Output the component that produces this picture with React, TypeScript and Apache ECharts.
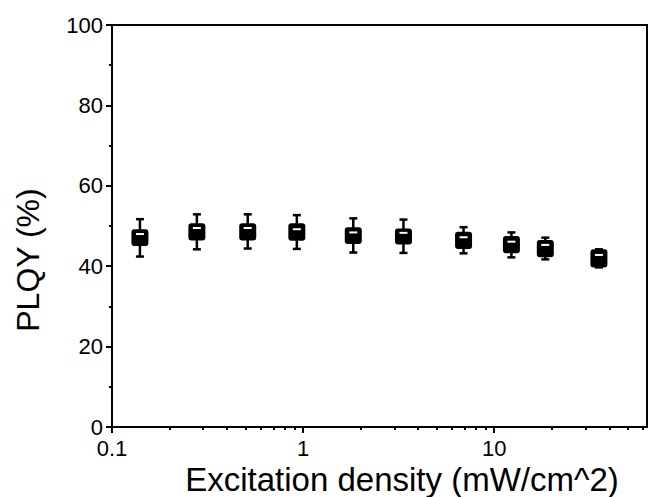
import React, { useEffect, useRef } from "react";
import * as echarts from "echarts";

// Excitation density (mW/cm^2) for each box
const densities = [0.14, 0.278, 0.513, 0.927, 1.83, 3.35, 6.91, 12.3, 18.5, 35.3];
// PLQY (%) statistics
const whiskerLow = [42.4, 44.2, 44.4, 44.3, 43.4, 43.3, 43.2, 42.2, 41.7, 39.7];
const boxLow = [45.0, 46.4, 46.4, 46.3, 45.5, 45.4, 44.3, 43.2, 42.2, 39.7];
const medians = [48.0, 49.5, 49.5, 49.2, 48.4, 48.3, 47.2, 46.1, 45.3, 42.8];
const boxHigh = [49.2, 50.7, 50.7, 50.7, 49.7, 49.4, 48.6, 47.5, 46.5, 44.2];
const whiskerHigh = [51.7, 52.9, 52.9, 52.7, 51.9, 51.6, 49.7, 48.4, 47.1, 44.2];

const xMajorTicks = [0.1, 1, 10];
const xMinorTicks = [0.2, 0.3, 0.4, 0.5, 0.6, 0.7, 0.8, 0.9, 2, 3, 4, 5, 6, 7, 8, 9, 20, 30, 40, 50, 60];
const xMin = 0.1;
const xMax = 63;
const yTicks = { min: 0, max: 100, interval: 20 };

const FONT = "'Liberation Sans', Arial, sans-serif";

export default function App() {
  const ref = useRef<HTMLDivElement>(null);
  useEffect(() => {
    if (!ref.current) return;
    const chart = echarts.init(ref.current, undefined, { renderer: "svg" });
    const lg = (v: number) => Math.log10(v);
    const data = densities.map((d, i) => [
      lg(d),
      whiskerLow[i],
      boxLow[i],
      medians[i],
      boxHigh[i],
      whiskerHigh[i],
    ]);
    const fmt = (v: number) => {
      const r = Math.pow(10, v);
      return r < 1 ? r.toFixed(1) : String(Math.round(r));
    };
    chart.setOption({
      animation: false,
      grid: {
        left: 112,
        right: 3,
        top: 25,
        bottom: 70,
        show: true,
        borderColor: "#000",
        borderWidth: 2,
        backgroundColor: "transparent",
      },
      xAxis: [
        {
          type: "value",
          min: lg(xMin),
          max: lg(xMax),
          axisLine: { show: true, onZero: false, lineStyle: { color: "#000", width: 2 } },
          axisTick: {
            show: true,
            customValues: xMajorTicks.map(lg),
            length: 6,
            lineStyle: { color: "#000", width: 2 },
          },
          axisLabel: {
            show: true,
            customValues: xMajorTicks.map(lg),
            formatter: fmt,
            fontSize: 22,
            fontFamily: FONT,
            color: "#000",
            margin: 10,
          },
          splitLine: { show: false },
        },
        {
          type: "value",
          position: "bottom",
          min: lg(xMin),
          max: lg(xMax),
          axisLine: { show: false, onZero: false },
          axisTick: {
            show: true,
            customValues: xMinorTicks.map(lg),
            length: 3,
            lineStyle: { color: "#000", width: 2 },
          },
          axisLabel: { show: false },
          splitLine: { show: false },
        },
      ],
      yAxis: {
        type: "value",
        min: yTicks.min,
        max: yTicks.max,
        interval: yTicks.interval,
        axisLine: { show: true, onZero: false, lineStyle: { color: "#000", width: 2 } },
        axisTick: { show: true, length: 6, lineStyle: { color: "#000", width: 2 } },
        minorTick: { show: true, splitNumber: 2, length: 3, lineStyle: { color: "#000", width: 2 } },
        axisLabel: { fontSize: 22, fontFamily: FONT, color: "#000", margin: 9 },
        splitLine: { show: false },
        minorSplitLine: { show: false },
      },
      graphic: [
        {
          type: "text",
          x: 402,
          y: 479,
          style: {
            text: "Excitation density (mW/cm^2)",
            fontSize: 33,
            fontFamily: FONT,
            fill: "#000",
            align: "center",
            verticalAlign: "middle",
          },
        },
        {
          type: "text",
          x: 28,
          y: 260,
          rotation: Math.PI / 2,
          style: {
            text: "PLQY (%)",
            fontSize: 32,
            fontFamily: FONT,
            fill: "#000",
            align: "center",
            verticalAlign: "middle",
          },
        },
      ],
      series: [
        {
          type: "custom",
          xAxisIndex: 0,
          yAxisIndex: 0,
          encode: { x: 0, y: [1, 2, 3, 4, 5] },
          data,
          renderItem: (params: any, api: any) => {
            const x = api.value(0);
            const lo = api.coord([x, api.value(1)]);
            const q1 = api.coord([x, api.value(2)]);
            const md = api.coord([x, api.value(3)]);
            const q3 = api.coord([x, api.value(4)]);
            const hi = api.coord([x, api.value(5)]);
            const cx = lo[0];
            const bw = 17;
            const cw = 8;
            const stroke = { stroke: "#000", lineWidth: 2.5 };
            return {
              type: "group",
              children: [
                { type: "line", shape: { x1: cx, y1: hi[1], x2: cx, y2: lo[1] }, style: stroke },
                { type: "line", shape: { x1: cx - cw / 2, y1: hi[1], x2: cx + cw / 2, y2: hi[1] }, style: stroke },
                { type: "line", shape: { x1: cx - cw / 2, y1: lo[1], x2: cx + cw / 2, y2: lo[1] }, style: stroke },
                {
                  type: "rect",
                  shape: { x: cx - bw / 2, y: q3[1], width: bw, height: q1[1] - q3[1], r: 3 },
                  style: { fill: "#000" },
                },
                {
                  type: "line",
                  shape: { x1: cx - 4, y1: md[1], x2: cx + 4, y2: md[1] },
                  style: { stroke: "#fff", lineWidth: 2 },
                },
              ],
            };
          },
        },
      ],
    });
    return () => chart.dispose();
  }, []);
  return (
    <div
      ref={ref}
      style={{ position: "fixed", left: 0, top: 0, width: 650, height: 497, background: "#fff" }}
    />
  );
}
